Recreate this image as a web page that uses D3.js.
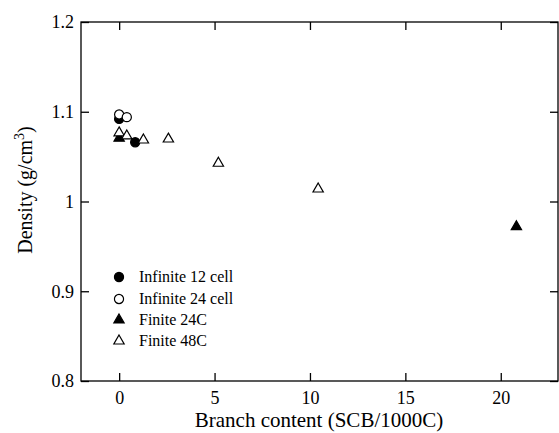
<!DOCTYPE html>
<meta charset="utf-8">
<body style="margin:0;background:#fff">
<style>
  text { font-family: "Liberation Serif", "Times New Roman", serif; fill: #000; }
  .tick text { font-size: 18px; }
  .legend text { font-size: 16px; }
  .title { font-size: 21px; }
  .ytitle { font-size: 20px; }
</style>
<svg width="559" height="433"></svg>
<script src="https://d3js.org/d3.v7.min.js"></script>
<script>

// data
var inf12x = [0, 0.84];
var inf12y = [1.092, 1.066];
var inf24x = [0, 0.4];
var inf24y = [1.097, 1.094];
var fin24x = [0, 20.82];
var fin24y = [1.0705, 0.972];
var fin48x = [0, 0.4, 1.27, 2.58, 5.2, 10.43];
var fin48y = [1.0765, 1.073, 1.0685, 1.0696, 1.0426, 1.0139];
var xTicks = [0, 5, 10, 15, 20];
var yTicks = [0.8, 0.9, 1.0, 1.1, 1.2];
var yLabels = ["0.8", "0.9", "1", "1.1", "1.2"];
var names = ["Infinite 12 cell", "Infinite 24 cell", "Finite 24C", "Finite 48C"];

var svg = d3.select("svg");
var pLeft = 81, pRight = 558, pTop = 22, pBottom = 381;

var x = d3.scaleLinear().domain([-2, 23]).range([pLeft, pRight]);
var y = d3.scaleLinear().domain([0.8, 1.2]).range([pBottom, pTop]);

// axes, ticks pointing inward
svg.append("g")
    .attr("transform", "translate(0," + pBottom + ")")
    .call(d3.axisBottom(x).tickValues(xTicks).tickSizeInner(-8).tickSizeOuter(0).tickPadding(10));
svg.append("g")
    .attr("transform", "translate(0," + pTop + ")")
    .call(d3.axisTop(x).tickValues(xTicks).tickSizeInner(-8).tickSizeOuter(0).tickFormat(""));
svg.append("g")
    .attr("transform", "translate(" + pLeft + ",0)")
    .call(d3.axisLeft(y).tickValues(yTicks).tickSizeInner(-8).tickSizeOuter(0).tickPadding(7)
        .tickFormat(function (d, i) { return yLabels[i]; }));
svg.append("g")
    .attr("transform", "translate(" + pRight + ",0)")
    .call(d3.axisRight(y).tickValues(yTicks).tickSizeInner(-8).tickSizeOuter(0).tickFormat(""));

svg.selectAll(".domain").remove();
svg.selectAll(".tick line").attr("stroke", "#000").attr("stroke-width", 1.3);
svg.selectAll("g").attr("font-family", null).attr("font-size", null);

svg.append("rect")
    .attr("x", pLeft).attr("y", pTop)
    .attr("width", pRight - pLeft).attr("height", pBottom - pTop)
    .attr("fill", "none").attr("stroke", "#000").attr("stroke-width", 1.3);

// titles
svg.append("text")
    .attr("class", "title")
    .attr("x", 319)
    .attr("y", 427)
    .attr("text-anchor", "middle")
    .text("Branch content (SCB/1000C)");

var yt = svg.append("text")
    .attr("class", "ytitle")
    .attr("transform", "translate(32,190) rotate(-90)")
    .attr("text-anchor", "middle");
yt.append("tspan").text("Density (g/cm");
yt.append("tspan").attr("dy", -8).attr("font-size", 14).text("3");
yt.append("tspan").attr("dy", 8).text(")");

// markers
var circ = d3.symbol().type(d3.symbolCircle).size(66);
var tri = d3.symbol().type(d3.symbolTriangle).size(46);
var styles = [
  { sym: circ, fill: "#000" },
  { sym: circ, fill: "#fff" },
  { sym: tri, fill: "#000" },
  { sym: tri, fill: "#fff" }
];
var series = [
  [inf12x, inf12y],
  [inf24x, inf24y],
  [fin24x, fin24y],
  [fin48x, fin48y]
];
var order = [0, 2, 1, 3];

order.forEach(function (k) {
  var s = series[k], st = styles[k];
  svg.append("g").selectAll("path")
    .data(d3.range(s[0].length))
    .enter().append("path")
      .attr("d", st.sym)
      .attr("transform", function (i) { return "translate(" + x(s[0][i]) + "," + y(s[1][i]) + ")"; })
      .attr("fill", st.fill)
      .attr("stroke", "#000")
      .attr("stroke-width", 1.2);
});

// legend
var lg = svg.append("g").attr("class", "legend");
var ly = [277, 299, 320, 341];
names.forEach(function (n, k) {
  lg.append("path")
    .attr("d", styles[k].sym)
    .attr("transform", "translate(119," + ly[k] + ")")
    .attr("fill", styles[k].fill)
    .attr("stroke", "#000")
    .attr("stroke-width", 1.2);
  lg.append("text")
    .attr("x", 139)
    .attr("y", ly[k] + 5)
    .text(n);
});

</script>
</body>
